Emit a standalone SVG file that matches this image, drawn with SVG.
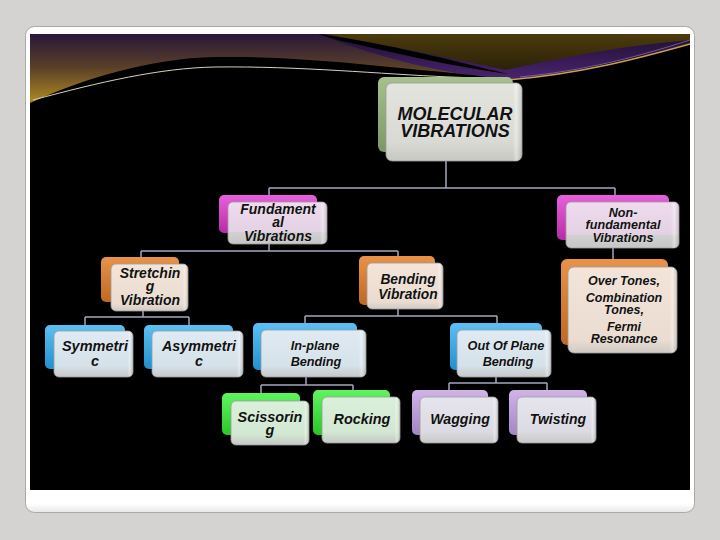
<svg xmlns="http://www.w3.org/2000/svg" width="720" height="540" viewBox="0 0 720 540">
  <defs>
    <linearGradient id="skyL" x1="0" y1="35" x2="0" y2="100" gradientUnits="userSpaceOnUse">
      <stop offset="0" stop-color="#2a1838"/>
      <stop offset="0.5" stop-color="#5a4028"/>
      <stop offset="1" stop-color="#a88420"/>
    </linearGradient>
    <linearGradient id="olive" x1="0" y1="35" x2="0" y2="72" gradientUnits="userSpaceOnUse">
      <stop offset="0" stop-color="#4a3a0c"/>
      <stop offset="1" stop-color="#2a2008"/>
    </linearGradient>
    <linearGradient id="purp" x1="0" y1="40" x2="0" y2="80" gradientUnits="userSpaceOnUse">
      <stop offset="0" stop-color="#24123a"/>
      <stop offset="1" stop-color="#4a2470"/>
    </linearGradient>
    <linearGradient id="cardShade" x1="0" y1="490" x2="0" y2="513" gradientUnits="userSpaceOnUse">
      <stop offset="0" stop-color="#ffffff"/>
      <stop offset="0.6" stop-color="#ffffff"/>
      <stop offset="1" stop-color="#e6e6e6"/>
    </linearGradient>
    <linearGradient id="bkGreen" x1="0" y1="0" x2="0" y2="1"><stop offset="0" stop-color="#a6c08e"/><stop offset="1" stop-color="#7c9666"/></linearGradient>
    <linearGradient id="bkMag" x1="0" y1="0" x2="0" y2="1"><stop offset="0" stop-color="#e860dc"/><stop offset="1" stop-color="#b82aa8"/></linearGradient>
    <linearGradient id="bkOr" x1="0" y1="0" x2="0" y2="1"><stop offset="0" stop-color="#e8924a"/><stop offset="1" stop-color="#c06820"/></linearGradient>
    <linearGradient id="bkBlue" x1="0" y1="0" x2="0" y2="1"><stop offset="0" stop-color="#5cc0f4"/><stop offset="1" stop-color="#2090d0"/></linearGradient>
    <linearGradient id="bkLime" x1="0" y1="0" x2="0" y2="1"><stop offset="0" stop-color="#60f460"/><stop offset="1" stop-color="#28c828"/></linearGradient>
    <linearGradient id="bkLav" x1="0" y1="0" x2="0" y2="1"><stop offset="0" stop-color="#d0b4e8"/><stop offset="1" stop-color="#a486c4"/></linearGradient>
    <linearGradient id="frGray" x1="0" y1="0" x2="0" y2="1"><stop offset="0" stop-color="#e4e4de"/><stop offset="0.75" stop-color="#dadad4"/><stop offset="1" stop-color="#c8c8c2"/></linearGradient>
    <linearGradient id="frMag" x1="0" y1="0" x2="0" y2="1"><stop offset="0" stop-color="#eedcee"/><stop offset="0.7" stop-color="#e4d2e4"/><stop offset="0.72" stop-color="#d2d0d2"/><stop offset="1" stop-color="#c6c6c6"/></linearGradient>
    <linearGradient id="frOr" x1="0" y1="0" x2="0" y2="1"><stop offset="0" stop-color="#f2e4d8"/><stop offset="0.85" stop-color="#eadcd0"/><stop offset="1" stop-color="#cfcac6"/></linearGradient>
    <linearGradient id="frBlue" x1="0" y1="0" x2="0" y2="1"><stop offset="0" stop-color="#dfeaf2"/><stop offset="0.75" stop-color="#d6e2ea"/><stop offset="1" stop-color="#c6c8ca"/></linearGradient>
    <linearGradient id="frLime" x1="0" y1="0" x2="0" y2="1"><stop offset="0" stop-color="#daf0da"/><stop offset="0.75" stop-color="#d2e8d2"/><stop offset="1" stop-color="#c6c8c6"/></linearGradient>
    <linearGradient id="frLav" x1="0" y1="0" x2="0" y2="1"><stop offset="0" stop-color="#e6e4ec"/><stop offset="0.75" stop-color="#dcdae2"/><stop offset="1" stop-color="#c8c8c8"/></linearGradient>
    <linearGradient id="bevel" x1="0" y1="0" x2="1" y2="0"><stop offset="0.93" stop-color="#ffffff" stop-opacity="0"/><stop offset="0.96" stop-color="#ffffff" stop-opacity="0.35"/><stop offset="1" stop-color="#888888" stop-opacity="0.25"/></linearGradient>
  </defs>
  <style>
    .bk { stroke: none; }
    .fr { stroke: #9c9c9c; stroke-width: 0.8; }
    .bv { fill: url(#bevel); stroke: none; }
    .t { font-family: "Liberation Sans", Arial, sans-serif; font-weight: bold; font-style: italic; fill: #111111; text-anchor: middle; stroke: #ffffff; stroke-opacity: 0.35; stroke-width: 0.6; paint-order: stroke; }
    .conn path { fill: none; stroke: #a2a6bc; stroke-width: 1.5; }
  </style>

  <!-- page -->
  <rect x="0" y="0" width="720" height="540" fill="#d4d3d1"/>
  <rect x="25.5" y="26.5" width="669" height="486" rx="9" fill="url(#cardShade)" stroke="#a9a9a9" stroke-width="1"/>
  <rect x="30" y="34" width="660" height="456" fill="#000000"/>

  <!-- top decoration -->
  <rect x="30" y="34" width="660" height="72" fill="url(#skyL)"/>
  <path d="M318,34 L690,34 L690,60 C620,66 560,76 506,80 C450,74 390,62 318,34 Z" fill="url(#purp)"/>
  <path d="M325,34 L690,34 L690,40 C620,46 560,58 506,70 C450,58 390,46 325,34 Z" fill="url(#olive)"/>
  <path d="M318,34 C390,44 450,60 508,74 C450,66 390,52 338,40 Z" fill="#000000"/>
  <path d="M30,103 C80,80 150,58 215,57 C290,56 360,64 420,70 C470,74 495,78 508,80 C580,72 640,56 690,44 L690,120 L30,120 Z" fill="#000000"/>
  <path d="M33,100 C100,82 160,68 215,67 C300,66 380,74 450,77 C480,78 495,79 508,80" fill="none" stroke="#d8d0c0" stroke-width="1"/>
  <path d="M508,80 C580,74 640,58 690,44" fill="none" stroke="#c8a050" stroke-width="1.6"/>
  <path d="M520,77 C590,70 640,56 690,40" fill="none" stroke="#b898c8" stroke-width="0.7" opacity="0.7"/>

  <!-- connectors -->
  <g id="connectors" class="conn">
    <path d="M446,161 V188 M269,188 H615 M269,188 V195 M615,188 V195"/>
    <path d="M269,244 V251 M141,251 H398 M141,251 V257 M398,251 V256"/>
    <path d="M143,311 V317 M85,317 H189 M85,317 V325 M189,317 V325"/>
    <path d="M398,309 V316 M305,316 H497 M305,316 V323 M497,316 V323"/>
    <path d="M306,377 V385 M261,385 H353 M261,385 V393 M353,385 V390"/>
    <path d="M496,377 V383 M449,383 H547 M449,383 V390 M547,383 V390"/>
    <path d="M613,248 V259"/>
  </g>

  <!-- nodes -->
  <g id="molecular-vibrations">
    <rect class="bk" x="378" y="77" width="135" height="75" rx="6" fill="url(#bkGreen)"/>
    <rect class="fr" x="386" y="83" width="136" height="78" rx="6" fill="url(#frGray)"/>
    <rect class="bv" x="386" y="83" width="136" height="78" rx="6"/>
    <text class="t" font-size="18"><tspan x="455" y="120">MOLECULAR</tspan><tspan x="455" y="137">VIBRATIONS</tspan></text>
  </g>

  <g id="fundamental-vibrations">
    <rect class="bk" x="219" y="195" width="98" height="38" rx="5" fill="url(#bkMag)"/>
    <rect class="fr" x="228" y="202" width="99" height="42" rx="5" fill="url(#frMag)"/>
    <rect class="bv" x="228" y="202" width="99" height="42" rx="5"/>
    <text class="t" font-size="14"><tspan x="278" y="214">Fundament</tspan><tspan x="278" y="227">al</tspan><tspan x="278" y="241">Vibrations</tspan></text>
  </g>

  <g id="non-fundamental-vibrations">
    <rect class="bk" x="557" y="195" width="112" height="45" rx="5" fill="url(#bkMag)"/>
    <rect class="fr" x="566" y="202" width="113" height="46" rx="5" fill="url(#frMag)"/>
    <rect class="bv" x="566" y="202" width="113" height="46" rx="5"/>
    <text class="t" font-size="12.6"><tspan x="623" y="217">Non-</tspan><tspan x="623" y="229">fundamental</tspan><tspan x="623" y="242">Vibrations</tspan></text>
  </g>

  <g id="stretching-vibration">
    <rect class="bk" x="101" y="257" width="78" height="45" rx="5" fill="url(#bkOr)"/>
    <rect class="fr" x="111" y="264" width="77" height="47" rx="5" fill="url(#frOr)"/>
    <rect class="bv" x="111" y="264" width="77" height="47" rx="5"/>
    <text class="t" font-size="14"><tspan x="150" y="278">Stretchin</tspan><tspan x="150" y="291">g</tspan><tspan x="150" y="305">Vibration</tspan></text>
  </g>

  <g id="bending-vibration">
    <rect class="bk" x="359" y="256" width="76" height="49" rx="5" fill="url(#bkOr)"/>
    <rect class="fr" x="367" y="263" width="76" height="46" rx="5" fill="url(#frOr)"/>
    <rect class="bv" x="367" y="263" width="76" height="46" rx="5"/>
    <text class="t" font-size="13.8"><tspan x="408" y="284">Bending</tspan><tspan x="408" y="299">Vibration</tspan></text>
  </g>

  <g id="overtones">
    <rect class="bk" x="561" y="259" width="107" height="86" rx="6" fill="url(#bkOr)"/>
    <rect class="fr" x="568" y="267" width="109" height="86" rx="6" fill="url(#frOr)"/>
    <rect class="bv" x="568" y="267" width="109" height="86" rx="6"/>
    <text class="t" font-size="12.5"><tspan x="624" y="285">Over Tones,</tspan><tspan x="624" y="302">Combination</tspan><tspan x="624" y="314">Tones,</tspan><tspan x="624" y="331">Fermi</tspan><tspan x="624" y="343">Resonance</tspan></text>
  </g>

  <g id="symmetric">
    <rect class="bk" x="45" y="325" width="80" height="44" rx="5" fill="url(#bkBlue)"/>
    <rect class="fr" x="54" y="331" width="79" height="46" rx="5" fill="url(#frBlue)"/>
    <rect class="bv" x="54" y="331" width="79" height="46" rx="5"/>
    <text class="t" font-size="14.5"><tspan x="95" y="351">Symmetri</tspan><tspan x="95" y="366">c</tspan></text>
  </g>

  <g id="asymmetric">
    <rect class="bk" x="144" y="325" width="89" height="44" rx="5" fill="url(#bkBlue)"/>
    <rect class="fr" x="152" y="331" width="91" height="46" rx="5" fill="url(#frBlue)"/>
    <rect class="bv" x="152" y="331" width="91" height="46" rx="5"/>
    <text class="t" font-size="14.3"><tspan x="199" y="351">Asymmetri</tspan><tspan x="199" y="366">c</tspan></text>
  </g>

  <g id="in-plane-bending">
    <rect class="bk" x="253" y="323" width="104" height="47" rx="5" fill="url(#bkBlue)"/>
    <rect class="fr" x="261" y="330" width="105" height="47" rx="5" fill="url(#frBlue)"/>
    <rect class="bv" x="261" y="330" width="105" height="47" rx="5"/>
    <text class="t" font-size="12.7"><tspan x="315" y="350">In-plane</tspan><tspan x="316" y="366">Bending</tspan></text>
  </g>

  <g id="out-of-plane-bending">
    <rect class="bk" x="450" y="323" width="92" height="47" rx="5" fill="url(#bkBlue)"/>
    <rect class="fr" x="457" y="330" width="94" height="47" rx="5" fill="url(#frBlue)"/>
    <rect class="bv" x="457" y="330" width="94" height="47" rx="5"/>
    <text class="t" font-size="12.7"><tspan x="506" y="350">Out Of Plane</tspan><tspan x="508" y="366">Bending</tspan></text>
  </g>

  <g id="scissoring">
    <rect class="bk" x="222" y="393" width="78" height="42" rx="5" fill="url(#bkLime)"/>
    <rect class="fr" x="231" y="401" width="78" height="44" rx="5" fill="url(#frLime)"/>
    <rect class="bv" x="231" y="401" width="78" height="44" rx="5"/>
    <text class="t" font-size="14.4"><tspan x="270" y="422">Scissorin</tspan><tspan x="270" y="435">g</tspan></text>
  </g>

  <g id="rocking">
    <rect class="bk" x="313" y="390" width="77" height="45" rx="5" fill="url(#bkLime)"/>
    <rect class="fr" x="322" y="397" width="78" height="46" rx="5" fill="url(#frLime)"/>
    <rect class="bv" x="322" y="397" width="78" height="46" rx="5"/>
    <text class="t" x="362" y="424" font-size="14.4">Rocking</text>
  </g>

  <g id="wagging">
    <rect class="bk" x="412" y="390" width="76" height="45" rx="5" fill="url(#bkLav)"/>
    <rect class="fr" x="420" y="397" width="78" height="46" rx="5" fill="url(#frLav)"/>
    <rect class="bv" x="420" y="397" width="78" height="46" rx="5"/>
    <text class="t" x="460" y="424" font-size="14.2">Wagging</text>
  </g>

  <g id="twisting">
    <rect class="bk" x="509" y="390" width="78" height="45" rx="5" fill="url(#bkLav)"/>
    <rect class="fr" x="517" y="397" width="79" height="46" rx="5" fill="url(#frLav)"/>
    <rect class="bv" x="517" y="397" width="79" height="46" rx="5"/>
    <text class="t" x="558" y="424" font-size="14">Twisting</text>
  </g>
</svg>
